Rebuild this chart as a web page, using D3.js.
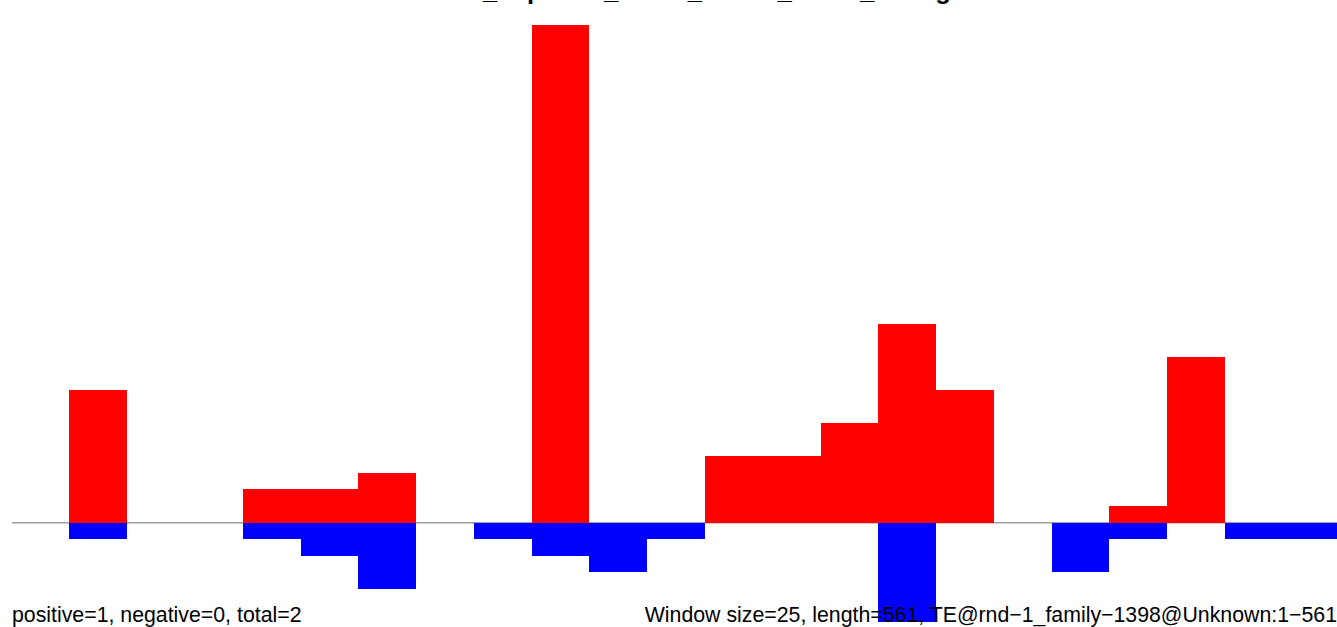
<!DOCTYPE html>
<html>
<head>
<meta charset="utf-8">
<script src="https://cdn.jsdelivr.net/npm/d3@7"></script>
<style>
  html, body { margin: 0; padding: 0; background: #fff; overflow: hidden; }
  svg { display: block; }
</style>
</head>
<body>
<svg id="chart" width="1337" height="627"></svg>
<script>
// ---- data ----
const windowSize = 25;
const seqLength = 561;
const windowIndex = d3.range(0, 23);               // 23 windows of 25 bp
const positiveCounts = [0, 8, 0, 0, 2, 2, 3, 0, 0, 30, 0, 0, 4, 4, 6, 12, 8, 0, 0, 1, 10, 0, 0];
const negativeCounts = [0, 1, 0, 0, 1, 2, 4, 0, 1, 2, 3, 1, 0, 0, 0, 6, 0, 0, 3, 1, 0, 1, 1];
const titleText = "TEcounts_superset_count_model_score_histogram";
const leftNote = "positive=1, negative=0, total=2";
const rightNote = "Window size=25, length=561, TE@rnd\u22121_family\u22121398@Unknown:1\u2212561";

// ---- layout ----
const W = 1337, H = 627;
const svg = d3.select("#chart");

const x = d3.scaleLinear()
  .domain([0, windowIndex.length * windowSize])
  .range([11.7, 1340.5]);
const y = d3.scaleLinear()
  .domain([-6, 30])
  .range([622.2, 25]);

// baseline
svg.append("line")
  .attr("x1", x(0)).attr("x2", W + 5)
  .attr("y1", y(0)).attr("y2", y(0))
  .attr("stroke", "#9e9e9e")
  .attr("stroke-width", 1.5);

// positive bars (red)
svg.append("g").selectAll("rect")
  .data(windowIndex.filter(i => positiveCounts[i] > 0))
  .join("rect")
  .attr("x", i => x(i * windowSize))
  .attr("width", i => x((i + 1) * windowSize) - x(i * windowSize))
  .attr("y", i => y(positiveCounts[i]))
  .attr("height", i => y(0) - y(positiveCounts[i]))
  .attr("fill", "#ff0000")
  .attr("shape-rendering", "crispEdges");

// negative bars (blue)
svg.append("g").selectAll("rect")
  .data(windowIndex.filter(i => negativeCounts[i] > 0))
  .join("rect")
  .attr("x", i => x(i * windowSize))
  .attr("width", i => x((i + 1) * windowSize) - x(i * windowSize))
  .attr("y", y(0))
  .attr("height", i => y(-negativeCounts[i]) - y(0))
  .attr("fill", "#0000ff")
  .attr("shape-rendering", "crispEdges");

// title (cut off at top, as in the reference)
const titleFont = "bold 25.6px 'Liberation Sans', Arial, sans-serif";
const tmp = svg.append("text").style("font", titleFont).text("TEcounts");
const prefixW = tmp.node().getComputedTextLength();
tmp.remove();
const ctx = document.createElement("canvas").getContext("2d");
ctx.font = titleFont;
const usDescent = ctx.measureText("_").actualBoundingBoxDescent || 4.5;
svg.append("text")
  .attr("x", 483 - prefixW)
  .attr("y", 2.1 - usDescent)
  .style("font", titleFont)
  .attr("fill", "#000")
  .text(titleText);

// bottom notes
svg.append("text")
  .attr("x", 12)
  .attr("y", 621.5)
  .style("font", "21.3px 'Liberation Sans', Arial, sans-serif")
  .attr("fill", "#000")
  .text(leftNote);

svg.append("text")
  .attr("x", 1337)
  .attr("y", 621.5)
  .attr("text-anchor", "end")
  .style("font", "21.3px 'Liberation Sans', Arial, sans-serif")
  .attr("fill", "#000")
  .text(rightNote);
</script>
</body>
</html>
